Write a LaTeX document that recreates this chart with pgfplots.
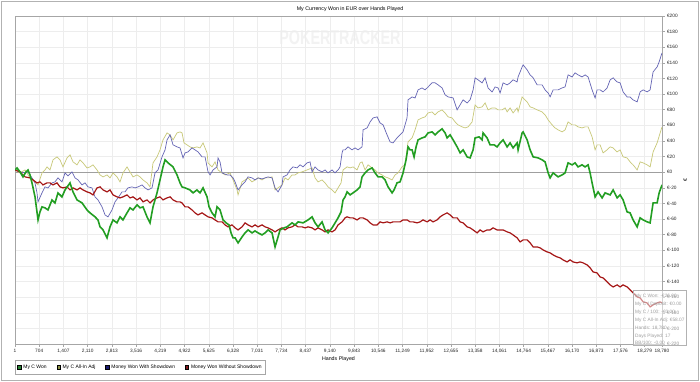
\documentclass[border=0pt]{standalone}
\usepackage{pgfplots}
\pgfplotsset{compat=1.18}
\usepackage{fontspec}
\setmainfont{Liberation Sans}
\definecolor{cwon}{RGB}{34,158,34}
\definecolor{callin}{RGB}{200,200,120}
\definecolor{cshow}{RGB}{100,100,180}
\definecolor{cnoshow}{RGB}{165,22,22}
\definecolor{lgreen}{RGB}{40,130,50}
\definecolor{lolive}{RGB}{140,145,70}
\definecolor{lnavy}{RGB}{25,25,110}
\definecolor{lred}{RGB}{130,25,30}
\begin{document}
\begin{tikzpicture}
\path[use as bounding box] (0,0) rectangle (700bp,382bp);
\fill[white] (0,0) rectangle (700bp,382bp);
\draw[gray!60, line width=1bp] (1.5bp,1.5bp) rectangle (698.5bp,380.5bp);
\node[font=\fontsize{5.3}{6}\selectfont] at (350bp,373bp) {My Currency Won in EUR over Hands Played};
\node[font=\bfseries\fontsize{20}{22}\selectfont, xscale=0.72, text=gray!10] at (340bp,344bp) {POKERTRACKER};
\begin{axis}[
  at={(15bp,38bp)}, anchor=south west, scale only axis,
  width=647bp, height=328bp,
  xmin=1, xmax=18780, ymin=-220, ymax=200,
  scaled x ticks=false, scaled y ticks=false,
  xtick={1,704,1407,2110,2813,3516,4219,4922,5625,6328,7031,7734,8437,9140,9843,10546,11249,11952,12655,13358,14061,14764,15467,16170,16873,17576,18279,18780},
  xticklabels={1,704,{1,407},{2,110},{2,813},{3,516},{4,219},{4,922},{5,625},{6,328},{7,031},{7,734},{8,437},{9,140},{9,843},{10,546},{11,249},{11,952},{12,655},{13,358},{14,061},{14,764},{15,467},{16,170},{16,873},{17,576},{18,279},{18,780}},
  ytick={-220,-200,...,200},
  yticklabels={€-220,€-200,€-180,€-160,€-140,€-120,€-100,€-80,€-60,€-40,€-20,€0,€20,€40,€60,€80,€100,€120,€140,€160,€180,€200},
  xtick pos=bottom, ytick pos=right, yticklabel pos=right,
  tick align=outside, major tick length=2.5bp,
  grid=major, major grid style={draw=gray!14, line width=0.5bp},
  axis line style={draw=gray!70, line width=0.8bp},
  tick style={draw=gray!70, line width=0.5bp},
  /pgf/number format/assume math mode=true,
  ticklabel style={font=\fontsize{4.8}{5}\selectfont, text=black!85},
  xticklabel style={yshift=1bp},
  yticklabel style={xshift=-1bp},
  xlabel={Hands Played},
  xlabel style={font=\fontsize{5.3}{6}\selectfont, at={(axis description cs:0.5,0)}, anchor=north, yshift=-9bp},
  ylabel={€},
  ylabel style={font=\fontsize{5.3}{6}\selectfont, at={(axis description cs:1.036,0.5)}, anchor=center},
  legend columns=4,
  legend style={at={(0,0)}, anchor=north west, yshift=-16bp, draw=gray!70, line width=0.8bp,
    font=\fontsize{5}{6}\selectfont, inner xsep=2bp, inner ysep=2.5bp,
    /tikz/every even column/.append style={column sep=8bp}},
  legend image code/.code={\fill[#1] (0bp,-1.6bp) rectangle (3.2bp,1.6bp);},
]
\addlegendimage{fill=lgreen}\addlegendentry{My C Won}
\addlegendimage{fill=lolive}\addlegendentry{My C All-In Adj}
\addlegendimage{fill=lnavy}\addlegendentry{Money Won With Showdown}
\addlegendimage{fill=lred}\addlegendentry{Money Won Without Showdown}

\addplot[gray!75, line width=0.8bp, forget plot] coordinates {(1,0) (18780,0)};

% My C All-In Adj
\addplot[callin, line width=0.7bp, forget plot] table {
x y
1 2.9
146 -0.9
291 2.9
436 -7.3
582 -12.4
669 -16.3
785 -0.9
872 2.9
930 6.8
1017 2.9
1104 15.8
1220 19.6
1307 15.8
1394 6.8
1511 18.3
1598 22.2
1685 13.2
1801 9.4
1888 15.8
1975 11.9
2091 5.5
2178 6.8
2265 9.4
2381 2.9
2469 -3.5
2556 -6.0
2672 -3.5
2759 -7.3
2846 -0.9
2962 -6.0
3049 -12.4
3136 -0.9
3252 6.8
3339 0.4
3427 -6.0
3543 -3.5
3630 -6.0
3717 -9.9
3833 -13.7
3920 -18.8
4007 11.9
4123 19.6
4210 28.6
4297 41.4
4414 50.3
4501 47.8
4588 41.4
4704 50.3
4791 51.6
4849 50.3
4907 37.5
4994 35.0
5081 32.4
5168 31.1
5284 32.4
5371 31.1
5459 37.5
5575 24.7
5604 11.9
5720 6.8
5807 13.2
5894 2.9
6010 -0.9
6097 -3.5
6242 -0.9
6330 -9.9
6446 -22.7
6475 -29.1
6591 -12.4
6678 -9.9
6765 -7.3
6881 -12.4
6968 -9.9
7055 -7.3
7171 -9.9
7259 -7.3
7346 -7.3
7462 -6.0
7549 -22.7
7636 -20.1
7752 -16.3
7839 -7.3
7926 -9.9
8042 -3.5
8129 -3.5
8216 -0.9
8333 0.4
8478 2.9
8623 5.5
8710 -7.3
8797 -12.4
8913 -9.9
9000 -13.7
9087 -18.8
9203 -22.7
9291 -26.5
9378 -20.1
9465 -13.7
9523 2.9
9639 6.8
9726 5.5
9813 6.8
9929 2.9
10016 11.9
10074 13.2
10162 2.9
10249 9.4
10365 5.5
10452 2.9
10539 -0.9
10655 -3.5
10742 -6.0
10829 -7.3
10945 -9.9
11032 -3.5
11119 -0.9
11235 6.8
11322 9.4
11409 38.8
11526 43.9
11613 54.2
11700 67.0
11816 69.5
11904 70.8
11991 75.9
12107 77.2
12194 73.4
12281 77.2
12397 79.8
12484 75.9
12572 70.8
12688 69.5
12775 64.4
12862 60.6
12978 58.0
13065 56.7
13152 58.0
13268 64.4
13355 86.2
13442 82.3
13558 83.6
13645 88.7
13732 79.8
13849 82.3
13936 82.3
14023 79.8
14139 79.8
14226 82.3
14284 77.2
14371 82.3
14458 75.9
14574 82.3
14603 77.2
14720 96.4
14749 95.1
14865 90.0
14952 83.6
15040 82.3
15156 79.8
15300 77.2
15387 73.4
15475 67.0
15591 60.6
15677 56.7
15765 54.2
15880 51.6
15967 54.2
16054 64.4
16170 60.6
16257 60.6
16344 58.0
16460 56.7
16547 58.0
16635 58.0
16751 45.2
16838 28.6
16896 35.0
16983 35.0
17070 24.7
17186 28.6
17274 32.4
17361 31.1
17477 26.0
17564 28.6
17651 19.6
17767 18.3
17854 13.2
17941 9.4
18058 2.9
18145 13.2
18232 11.9
18348 9.4
18435 6.8
18522 26.0
18638 37.5
18726 50.3
18780 58.0
};

% Money Won With Showdown
\addplot[cshow, line width=0.7bp, forget plot] table {
x y
1 2.9
146 0.4
291 -0.9
378 0.4
494 -7.3
582 -13.7
640 -26.5
669 -38.0
785 -26.5
872 -18.8
959 -20.1
1075 -13.7
1162 -12.4
1249 -7.3
1365 -12.4
1453 -0.9
1540 -4.7
1656 0.4
1743 -7.3
1830 -9.9
1946 -16.3
2033 -13.7
2120 -18.8
2236 -20.1
2323 -31.6
2410 -35.5
2527 -44.4
2614 -54.7
2701 -57.2
2817 -48.3
2904 -38.0
2991 -32.9
3107 -25.2
3194 -25.2
3281 -20.1
3397 -18.8
3485 -20.1
3572 -18.8
3688 -16.3
3775 -20.1
3862 -22.7
3978 -20.1
4065 -0.9
4152 2.9
4268 19.6
4356 28.6
4414 41.4
4501 47.8
4588 35.0
4704 32.4
4791 31.1
4878 18.3
4936 24.7
5023 26.0
5139 31.1
5226 28.6
5313 26.0
5430 19.6
5517 19.6
5604 0.4
5662 -3.5
5749 2.9
5865 6.8
5894 18.3
5952 13.2
6010 -0.9
6155 -3.5
6242 -3.5
6330 -7.3
6388 -12.4
6475 -22.7
6591 -16.3
6678 -12.4
6765 -6.0
6881 -7.3
6968 -9.9
7055 -7.3
7171 -8.6
7259 -7.3
7346 -6.0
7462 -7.3
7549 -20.1
7636 -25.2
7752 -16.3
7781 -6.0
7897 -3.5
7984 2.9
8071 6.8
8187 5.5
8275 9.4
8362 6.8
8478 11.9
8565 13.2
8623 0.4
8710 6.8
8797 2.9
8913 0.4
9000 2.9
9087 -0.9
9203 2.9
9291 -0.9
9378 2.9
9436 6.8
9494 24.7
9523 28.6
9581 28.6
9668 32.4
9784 28.6
9871 31.1
9958 28.6
10074 32.4
10103 54.2
10220 56.7
10307 64.4
10394 69.5
10510 70.8
10597 63.1
10684 60.6
10800 47.8
10887 38.8
10974 37.5
11090 43.9
11177 47.8
11264 51.6
11380 69.5
11409 92.6
11526 96.4
11613 95.1
11700 105.4
11816 107.9
11904 105.4
11991 109.2
12107 114.4
12194 114.4
12281 111.8
12397 107.9
12484 99.0
12572 96.4
12717 95.1
12833 79.8
12920 86.2
13007 92.6
13123 88.7
13210 92.6
13297 105.4
13355 120.8
13442 118.2
13558 114.4
13645 120.8
13732 107.9
13849 102.8
13936 109.2
14023 107.9
14081 101.5
14168 114.4
14284 111.8
14371 114.4
14458 118.2
14574 115.6
14603 122.0
14720 134.8
14749 137.4
14865 131.0
14952 124.6
15040 120.8
15156 111.8
15300 111.8
15387 105.4
15475 101.5
15532 96.4
15620 105.4
15765 105.4
15880 107.9
15967 109.2
16054 124.6
16170 122.0
16257 127.2
16344 124.6
16460 122.0
16547 124.6
16635 122.0
16751 105.4
16838 95.1
16896 105.4
16983 105.4
17070 102.8
17186 107.9
17274 118.2
17361 120.8
17477 115.6
17564 114.4
17651 102.8
17767 96.4
17854 96.4
17941 92.6
18058 90.0
18145 102.8
18232 105.4
18348 102.8
18435 105.4
18522 128.4
18638 134.8
18697 141.2
18780 152.8
};

% Money Won Without Showdown
\addplot[cnoshow, line width=1.2bp, forget plot] table {
x y
1 2.9
146 0.4
291 -6.0
436 -7.3
524 -9.9
640 -13.7
727 -12.4
814 -16.3
930 -13.7
1017 -13.7
1104 -16.3
1220 -13.7
1307 -18.8
1394 -20.1
1511 -18.8
1598 -22.7
1685 -20.1
1801 -22.7
1888 -20.1
1975 -22.7
2091 -25.2
2178 -26.5
2265 -29.1
2381 -20.1
2469 -18.8
2556 -22.7
2672 -25.2
2759 -22.7
2846 -29.1
2962 -31.6
3049 -32.9
3136 -31.6
3252 -29.1
3339 -32.9
3427 -31.6
3543 -35.5
3630 -32.9
3717 -38.0
3833 -35.5
3920 -39.3
4007 -35.5
4123 -32.9
4210 -31.6
4297 -35.5
4414 -32.9
4501 -31.6
4588 -35.5
4704 -38.0
4791 -38.0
4849 -39.3
4936 -44.4
5023 -44.4
5139 -48.3
5226 -52.1
5313 -54.7
5430 -52.1
5517 -54.7
5604 -57.2
5720 -58.5
5807 -61.1
5894 -63.6
6010 -63.6
6097 -67.5
6184 -70.0
6300 -67.5
6388 -71.3
6475 -73.9
6591 -70.0
6678 -64.9
6765 -67.5
6881 -70.0
6968 -67.5
7055 -70.0
7171 -67.5
7259 -70.0
7346 -71.3
7462 -73.9
7549 -76.4
7636 -73.9
7752 -71.3
7839 -73.9
7926 -71.3
8042 -70.0
8129 -67.5
8216 -70.0
8333 -70.0
8420 -71.3
8507 -70.0
8623 -71.3
8710 -73.9
8797 -71.3
8913 -73.9
9000 -76.4
9087 -73.9
9203 -76.4
9291 -73.9
9378 -67.5
9494 -63.6
9581 -58.5
9639 -57.2
9726 -58.5
9813 -58.5
9929 -61.1
10016 -58.5
10103 -58.5
10220 -61.1
10307 -64.9
10394 -67.5
10510 -67.5
10597 -63.6
10684 -64.9
10800 -63.6
10887 -64.9
10974 -63.6
11090 -63.6
11177 -63.6
11264 -61.1
11380 -61.1
11468 -63.6
11555 -63.6
11671 -64.9
11758 -63.6
11845 -61.1
11962 -63.6
12049 -61.1
12136 -63.6
12252 -61.1
12339 -57.2
12426 -54.7
12542 -52.1
12630 -54.7
12717 -58.5
12833 -58.5
12920 -63.6
13007 -64.9
13123 -70.0
13210 -71.3
13297 -73.9
13413 -77.7
13500 -73.9
13587 -76.4
13703 -73.9
13790 -73.9
13878 -71.3
13994 -73.9
14081 -73.9
14168 -73.9
14284 -76.4
14371 -77.7
14458 -80.3
14574 -84.1
14662 -89.3
14749 -86.7
14865 -86.7
14952 -90.5
15040 -95.7
15156 -95.7
15242 -96.9
15329 -99.5
15446 -102.1
15532 -103.3
15620 -105.9
15736 -108.5
15822 -109.7
15910 -112.3
16025 -114.9
16112 -112.3
16199 -114.9
16315 -116.1
16402 -114.9
16489 -116.1
16606 -118.7
16693 -122.5
16780 -127.7
16896 -129.0
16983 -134.1
17070 -135.4
17186 -140.5
17274 -144.3
17361 -146.9
17477 -144.3
17564 -146.9
17651 -144.3
17767 -146.9
17854 -150.7
17941 -154.6
18058 -159.7
18145 -161.0
18232 -166.1
18348 -167.4
18435 -172.5
18522 -169.9
18638 -167.4
18726 -166.1
18780 -167.4
};

% My C Won
\addplot[cwon, line width=1.6bp, forget plot] table {
x y
1 2.9
59 5.5
146 0.4
233 -6.0
320 0.4
378 2.9
436 -3.5
494 -13.7
582 -31.6
669 -61.1
727 -50.8
785 -44.4
872 -45.7
959 -48.3
1075 -35.5
1162 -39.3
1249 -26.5
1365 -31.6
1453 -22.7
1598 -13.7
1685 -25.2
1801 -35.5
1946 -39.3
2091 -48.3
2178 -52.1
2323 -57.2
2410 -61.1
2469 -70.0
2556 -73.9
2672 -84.1
2759 -70.0
2846 -61.1
2962 -64.9
3049 -57.2
3136 -61.1
3252 -52.1
3339 -45.7
3427 -48.3
3543 -41.9
3630 -45.7
3717 -44.4
3833 -57.2
3920 -64.9
4007 -44.4
4123 -26.5
4210 -9.9
4297 6.8
4356 15.8
4443 11.9
4588 6.8
4704 -3.5
4791 -13.7
4849 -18.8
4936 -20.1
5081 -22.7
5168 -26.5
5284 -22.7
5371 -26.5
5459 -20.1
5575 -31.6
5633 -44.4
5720 -52.1
5807 -57.2
5865 -44.4
5952 -48.3
6039 -61.1
6126 -64.9
6213 -67.5
6271 -77.7
6330 -84.1
6388 -84.1
6475 -90.5
6591 -82.9
6678 -77.7
6765 -73.9
6881 -77.7
6968 -75.2
7055 -77.7
7171 -80.3
7259 -77.7
7346 -73.9
7462 -77.7
7549 -95.7
7636 -82.9
7694 -73.9
7810 -71.3
7897 -70.0
8042 -64.9
8129 -67.5
8216 -63.6
8362 -64.9
8507 -61.1
8623 -57.2
8710 -64.9
8797 -70.0
8913 -63.6
9000 -73.9
9087 -77.7
9203 -71.3
9291 -64.9
9378 -58.5
9465 -50.8
9523 -35.5
9581 -31.6
9639 -25.2
9726 -29.1
9813 -26.5
9929 -22.7
10016 -18.8
10074 -6.0
10162 -0.9
10249 2.9
10365 5.5
10452 -0.9
10539 -6.0
10655 -6.0
10742 -9.9
10829 -18.8
10945 -26.5
11003 -22.7
11090 -13.7
11177 -12.4
11264 -0.9
11351 15.8
11409 32.4
11468 28.6
11526 28.6
11584 19.6
11642 32.4
11700 41.4
11816 43.9
11904 45.2
11991 50.3
12107 51.6
12194 47.8
12281 51.6
12397 55.5
12484 50.3
12542 43.9
12630 47.8
12717 41.4
12833 32.4
12920 24.7
13007 28.6
13123 19.6
13210 18.3
13297 28.6
13355 43.9
13471 45.2
13558 41.4
13587 50.3
13703 43.9
13790 35.0
13907 35.0
13994 32.4
14081 37.5
14168 41.4
14284 32.4
14371 37.5
14458 31.1
14574 37.5
14603 28.6
14720 50.3
14749 51.6
14865 41.4
14952 28.6
15040 19.6
15185 18.3
15300 15.8
15387 13.2
15475 -0.9
15532 -7.3
15620 -0.9
15765 -6.0
15880 -3.5
15967 -0.9
16054 11.9
16170 9.4
16257 11.9
16344 6.8
16460 9.4
16547 6.8
16635 9.4
16693 -0.9
16751 -13.7
16838 -31.6
16925 -25.2
17041 -32.9
17128 -26.5
17274 -29.1
17361 -22.7
17477 -32.9
17564 -29.1
17651 -35.5
17767 -50.8
17854 -52.1
17941 -61.1
18058 -70.0
18145 -58.5
18232 -61.1
18348 -63.6
18435 -64.9
18522 -39.3
18638 -39.3
18697 -26.5
18780 -16.3
};
\end{axis}
% hover tooltip
\fill[white, fill opacity=0.5] (633bp,37bp) rectangle (686bp,92bp);
\draw[gray!60, line width=0.7bp] (633bp,37bp) rectangle (686bp,92bp);
\begin{scope}[every node/.style={anchor=west, font=\fontsize{4.8}{5}\selectfont, text=gray!75, inner sep=0pt}]
\node at (635bp,86bp) {My C Won: -€26.00};
\node at (635bp,78bp) {My C / Deposit: €0.00};
\node at (635bp,70bp) {My C / 100: -€0.00};
\node at (635bp,62bp) {My C All-In Adj: €58.07};
\node at (635bp,54bp) {Hands: 18,780};
\node at (635bp,46bp) {Days Played: 17};
\node at (635bp,39bp) {BB/100: -0.00};
\end{scope}
\end{tikzpicture}
\end{document}
